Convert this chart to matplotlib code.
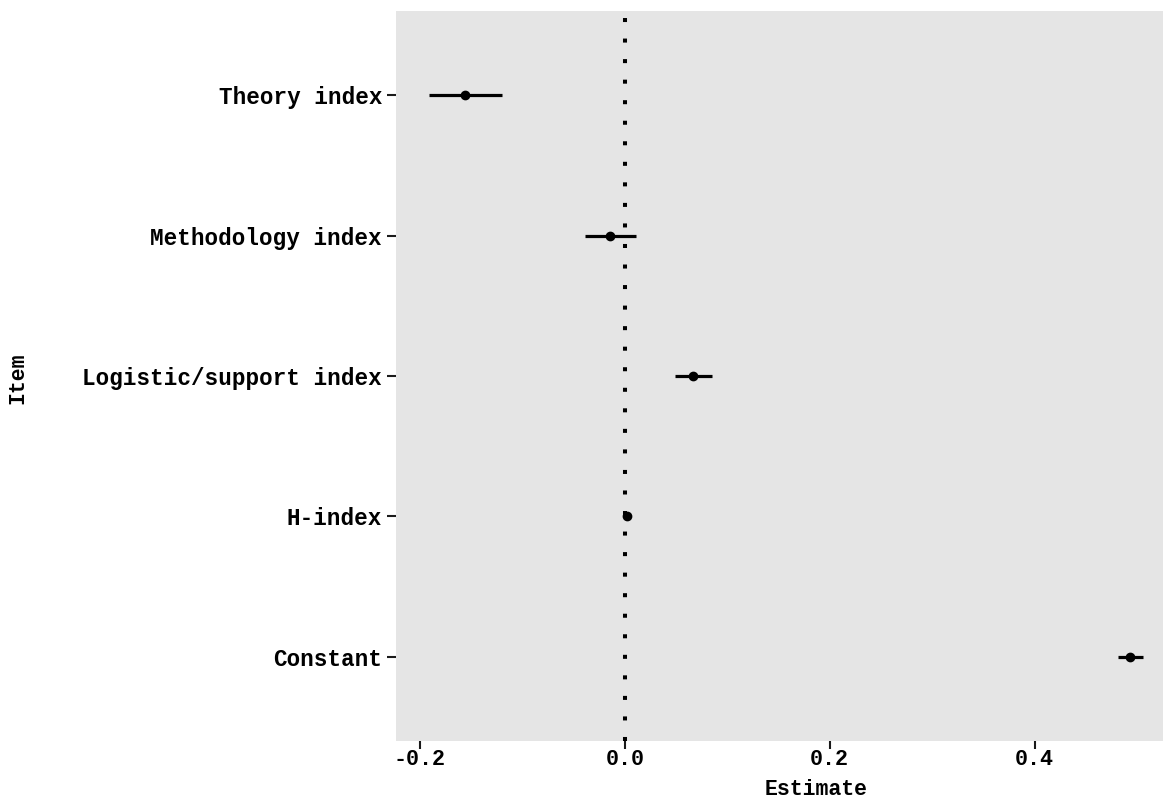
import matplotlib
matplotlib.use("Agg")
import matplotlib.pyplot as plt
import numpy as np

items = ["Constant", "H-index", "Logistic/support index", "Methodology index", "Theory index"]
estimates = [0.493, 0.002, 0.067, -0.014, -0.156]
ci_low = [0.481, 0.000, 0.049, -0.039, -0.191]
ci_high = [0.506, 0.004, 0.085, 0.011, -0.120]
xticks = [-0.2, 0.0, 0.2, 0.4]
xticklabels = ["-0.2", "0.0", "0.2", "0.4"]

plt.rcParams['font.family'] = ['Liberation Mono', 'DejaVu Sans Mono']
plt.rcParams['font.weight'] = 'bold'

fig = plt.figure(figsize=(11.67, 7.98), dpi=100)
ax = fig.add_axes([0.3393, 0.0718, 0.9966 - 0.3393, 0.9862 - 0.0718])
ax.set_facecolor('#E5E5E5')
for s in ax.spines.values():
    s.set_visible(False)

ypos = np.arange(1, len(items) + 1)
est = np.array(estimates)
lo = np.array(ci_low)
hi = np.array(ci_high)

ax.axvline(0, color='black', lw=2.9, ls=(0, (1, 4.1)), dash_capstyle='butt', zorder=1)
ax.hlines(ypos, lo, hi, color='black', lw=2.3, zorder=2)
ax.plot(est, ypos, 'o', color='black', ms=6, zorder=3)

ax.set_xlim(-0.2234, 0.5254)
ax.set_ylim(0.4, 5.6)
ax.set_yticks(ypos)
ax.set_yticklabels(items, fontsize=16.3, fontweight='bold')
ax.set_xticks(xticks)
ax.set_xticklabels(xticklabels, fontsize=15.7, fontweight='bold')
ax.tick_params(axis='y', length=6.5, width=1.5, color='#1a1a1a', pad=3.5)
ax.tick_params(axis='x', length=5.5, width=1.5, color='#1a1a1a', pad=0.5)

fig.text(816 / 1167, 1 - 795 / 798, "Estimate", ha='center', va='baseline',
         fontsize=15.5, fontweight='bold')
fig.text(18 / 1167, 1 - 378 / 798, "Item", ha='center', va='center',
         rotation=90, fontsize=15.5, fontweight='bold')

fig.savefig("out.png", dpi=100)
